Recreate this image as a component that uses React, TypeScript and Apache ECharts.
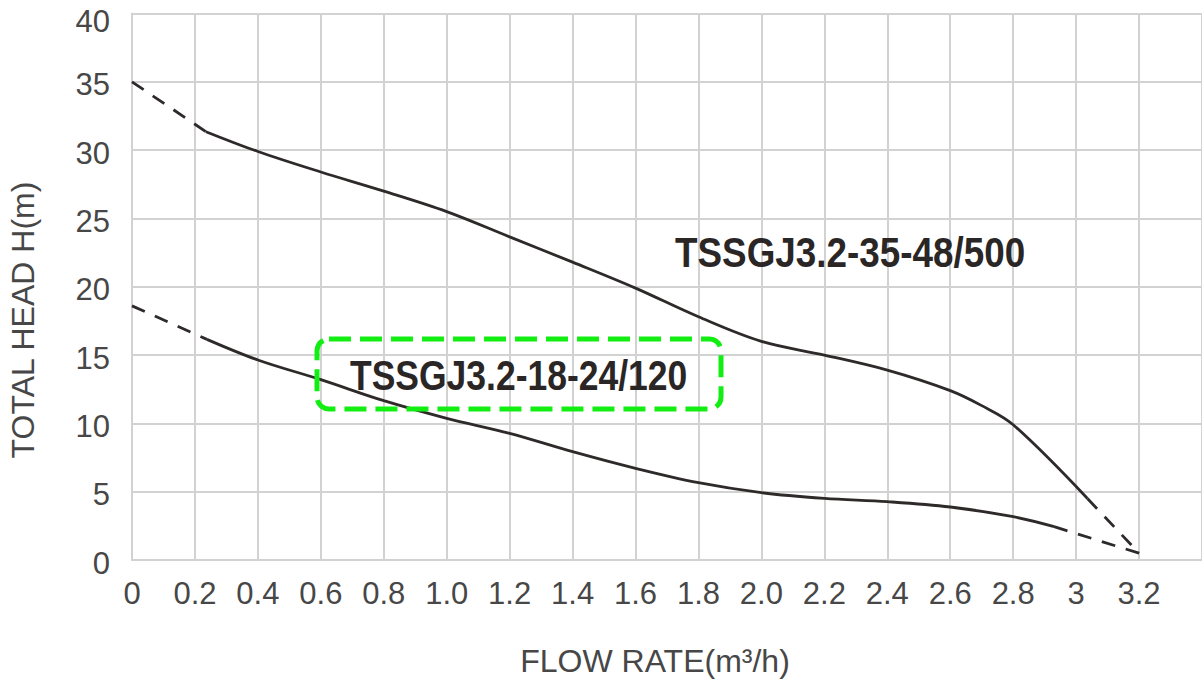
import React, { useEffect, useRef } from "react";
import * as echarts from "echarts";

const xTickLabels = ["0", "0.2", "0.4", "0.6", "0.8", "1.0", "1.2", "1.4", "1.6", "1.8", "2.0", "2.2", "2.4", "2.6", "2.8", "3", "3.2"];

const upperSolid: [number, number][] = [
  [0.235, 31.35], [0.4, 29.9], [0.6, 28.4], [0.8, 27.0], [1.0, 25.5], [1.2, 23.65],
  [1.4, 21.8], [1.6, 19.9], [1.8, 17.8], [2.0, 16.0], [2.2, 15.0], [2.4, 13.9],
  [2.6, 12.4], [2.7, 11.3], [2.8, 9.9], [3.036, 4.5],
];
const upperDashStart: [number, number][] = [[0, 35], [0.235, 31.35]];
const upperDashEnd: [number, number][] = [[3.036, 4.5], [3.2, 0.5]];

const lowerSolid: [number, number][] = [
  [0.238, 16.15], [0.4, 14.64], [0.6, 13.2], [0.8, 11.66], [1.0, 10.37], [1.2, 9.27],
  [1.4, 7.93], [1.6, 6.71], [1.8, 5.66], [2.0, 4.93], [2.2, 4.51], [2.4, 4.27],
  [2.6, 3.88], [2.8, 3.17], [2.93, 2.44],
];
const lowerDashStart: [number, number][] = [[0, 18.6], [0.238, 16.15]];
const lowerDashEnd: [number, number][] = [[2.93, 2.44], [3.2, 0.5]];

const upperName = "TSSGJ3.2-35-48/500";
const lowerName = "TSSGJ3.2-18-24/120";
const xAxisName = "FLOW RATE(m³/h)";
const yAxisName = "TOTAL HEAD H(m)";

const LINE = "#2f2a2a";
const GRIDC = "#d2d2d2";
const LABELC = "#474747";

export default function App() {
  const ref = useRef<HTMLDivElement>(null);
  useEffect(() => {
    if (!ref.current) return;
    const chart = echarts.init(ref.current, null, { renderer: "svg" });
    const solid = (name: string, data: [number, number][]) => ({
      name, type: "line", data, smooth: 0.35, symbol: "none",
      lineStyle: { color: LINE, width: 2.8 }, silent: true,
    });
    const dashed = (name: string, data: [number, number][]) => ({
      name, type: "line", data, symbol: "none",
      lineStyle: { color: LINE, width: 2.8, type: [14, 11] }, silent: true,
    });
    const yLabelFont = { color: LABELC, fontSize: 31, fontFamily: "Liberation Sans" };
    chart.setOption({
      animation: false,
      backgroundColor: "#ffffff",
      grid: { left: 132, right: -1, top: 13.5, bottom: 121, containLabel: false },
      xAxis: {
        type: "value", min: 0, max: 3.4, interval: 0.2,
        axisLine: { show: true, lineStyle: { color: GRIDC, width: 2 } },
        axisTick: { show: false },
        splitLine: { show: true, lineStyle: { color: GRIDC, width: 2 } },
        axisLabel: {
          margin: 18, color: LABELC, fontSize: 31, fontFamily: "Liberation Sans",
          showMaxLabel: false,
          formatter: (v: number) => xTickLabels[Math.round(v / 0.2)] ?? "",
        },
      },
      yAxis: {
        type: "value", min: 0, max: 40, interval: 5,
        axisLine: { show: true, lineStyle: { color: GRIDC, width: 2 } },
        axisTick: { show: false },
        splitLine: { show: true, lineStyle: { color: GRIDC, width: 2 } },
        axisLabel: {
          margin: 22, ...yLabelFont,
          formatter: (v: number) => (v === 40 ? "{top|40}" : "{n|" + v + "}"),
          rich: {
            top: { ...yLabelFont, padding: [16, 0, 0, 0] },
            n: { ...yLabelFont, padding: [6, 0, 0, 0] },
          },
        },
      },
      series: [
        solid(upperName, upperSolid),
        dashed(upperName + " start", upperDashStart),
        dashed(upperName + " end", upperDashEnd),
        solid(lowerName, lowerSolid),
        dashed(lowerName + " start", lowerDashStart),
        dashed(lowerName + " end", lowerDashEnd),
      ],
      graphic: [
        {
          type: "rect", shape: { x: 317, y: 339, width: 404, height: 70, r: 12 },
          style: { fill: "none", stroke: "#12ee12", lineWidth: 5, lineDash: [22, 9] }, z: 10,
        },
        {
          type: "text", x: 675, y: 252, scaleX: 0.877, z: 10,
          style: { text: upperName, x: 0, y: 0, fill: "#2b2626", font: "bold 42px 'Liberation Sans'", textAlign: "left", textVerticalAlign: "middle" },
        },
        {
          type: "text", x: 350, y: 375, scaleX: 0.845, z: 10,
          style: { text: lowerName, x: 0, y: 0, fill: "#2b2626", font: "bold 42px 'Liberation Sans'", textAlign: "left", textVerticalAlign: "middle" },
        },
        {
          type: "text", x: 655, y: 661, z: 10,
          style: { text: xAxisName, x: 0, y: 0, fill: LABELC, font: "32px 'Liberation Sans'", textAlign: "center", textVerticalAlign: "middle" },
        },
        {
          type: "text", x: 23, y: 320, rotation: Math.PI / 2, z: 10,
          style: { text: yAxisName, x: 0, y: 0, fill: LABELC, font: "32px 'Liberation Sans'", textAlign: "center", textVerticalAlign: "middle" },
        },
      ],
    });
    return () => chart.dispose();
  }, []);
  return (
    <div
      ref={ref}
      style={{ position: "fixed", left: 0, top: 0, width: 1202, height: 681, background: "#fff" }}
    />
  );
}
